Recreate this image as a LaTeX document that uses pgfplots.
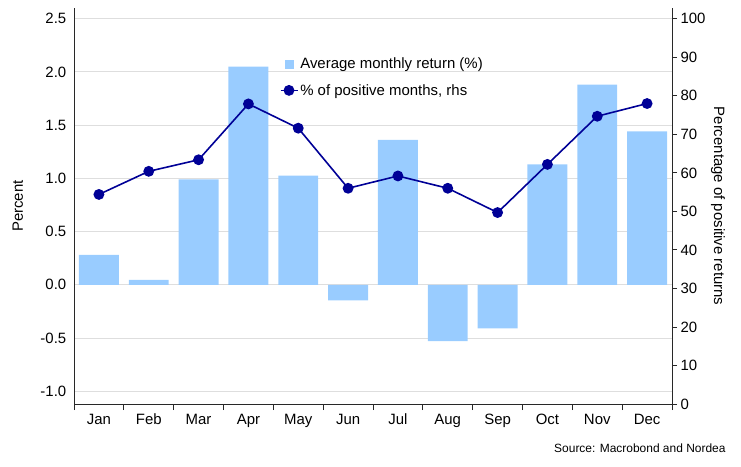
\documentclass[border=0pt]{standalone}
\usepackage{fontspec}
\setmainfont{Liberation Sans}
\usepackage{pgfplots}
\pgfplotsset{compat=1.18}
\definecolor{barblue}{RGB}{153,204,255}
\definecolor{navy}{RGB}{0,0,150}
\definecolor{gridgray}{RGB}{222,222,222}
\definecolor{axgray}{RGB}{40,40,40}
\begin{document}
\begin{tikzpicture}
\pgfplotsset{
  every axis/.append style={
    scale only axis, width=598bp, height=396bp,
    xmin=0.5, xmax=12.5,
    /pgf/number format/assume math mode=true,
    tick label style={font=\fontsize{15}{18}\selectfont, text=black},
    label style={font=\fontsize{15}{18}\selectfont},
    axis line style={axgray, line width=0.9pt},
    tick style={axgray, line width=0.9pt},
  }
}
\begin{axis}[
  at={(0,0)}, anchor=south west,
  axis y line*=left, axis x line*=bottom,
  ymin=-1.12, ymax=2.6,
  ytick={-1,-0.5,0,0.5,1,1.5,2,2.5},
  yticklabel style={/pgf/number format/.cd, fixed, fixed zerofill, precision=1},
  ymajorgrids, grid style={gridgray, line width=0.8pt},
  major y tick style={draw=none},
  xtick={1,...,12},
  xticklabels={Jan,Feb,Mar,Apr,May,Jun,Jul,Aug,Sep,Oct,Nov,Dec},
  major x tick style={draw=none},
  minor xtick={0.5,1.5,...,12.5},
  minor tick length=6bp,
  tick align=outside,
  xticklabel style={yshift=-2bp},
  ylabel={Percent},
  ylabel style={at={(axis description cs:-0.094,0.5)}, anchor=center},
  ybar, bar width=0.8,
]
\addplot[fill=barblue, draw=none] coordinates {
(1,0.28) (2,0.045) (3,0.99) (4,2.05) (5,1.025) (6,-0.147)
(7,1.36) (8,-0.53) (9,-0.41) (10,1.13) (11,1.88) (12,1.44)};
\end{axis}
\begin{axis}[
  at={(0,0)}, anchor=south west,
  axis y line*=right, axis x line=none,
  ymin=0, ymax=102.8,
  ytick={0,10,...,100},
  major tick length=5bp,
  tick align=outside,
  ylabel={Percentage of positive returns},
  ylabel style={rotate=180, at={(axis description cs:1.077,0.5)}, anchor=center},
  legend style={draw=none, fill=none, at={(rel axis cs:0.342,0.882)}, anchor=north west,
    font=\fontsize{15}{18}\selectfont, row sep=10bp, inner sep=1bp,
    /tikz/every even column/.append style={column sep=2bp}},
  legend cell align=left,
]
\addlegendimage{legend image code/.code={\fill[barblue] (0.18cm,-0.14cm) rectangle (0.44cm,0.14cm);}}
\addlegendentry{Average monthly return (\%)}
\addplot[navy, line width=1.6pt, mark=*, mark size=4.6bp, mark options={fill=navy}] coordinates {
(1,54.4) (2,60.4) (3,63.4) (4,77.9) (5,71.6) (6,56.0)
(7,59.2) (8,56.0) (9,49.7) (10,62.2) (11,74.7) (12,78.0)};
\addlegendentry{\% of positive months, rhs}
\end{axis}
\node[anchor=east, font=\fontsize{12}{14}\selectfont] at (655bp,-44bp) {Source: Macrobond and Nordea};
\pgfresetboundingbox
\path[use as bounding box] (-74bp,-63bp) rectangle (667bp,404bp);
\end{tikzpicture}
\end{document}
